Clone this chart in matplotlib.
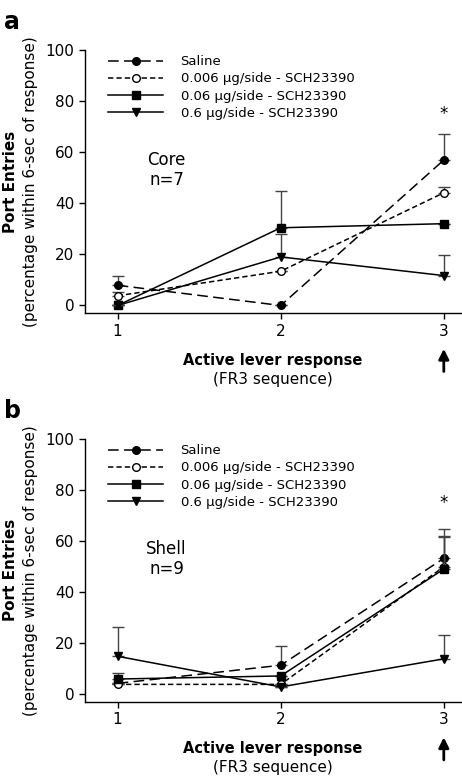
import matplotlib
matplotlib.use("Agg")
import matplotlib.pyplot as plt

# x positions: lever responses in the FR3 sequence
responses = [1, 2, 3]
labels = ["Saline", "0.006 \u00b5g/side - SCH23390", "0.06 \u00b5g/side - SCH23390", "0.6 \u00b5g/side - SCH23390"]

# Core (panel a) means and upper SEM
core_saline = [7.9, 0.0, 56.9]
core_saline_err = [3.6, 0.0, 10.2]
core_006 = [3.8, 13.4, 44.1]
core_006_err = [1.5, 0.0, 2.2]
core_06 = [0.0, 30.4, 32.0]
core_06_err = [0.0, 14.4, 0.0]
core_6 = [0.0, 19.0, 11.7]
core_6_err = [0.0, 9.0, 7.9]

# Shell (panel b)
shell_saline = [4.2, 11.3, 53.2]
shell_saline_err = [0.0, 7.6, 11.7]
shell_006 = [3.8, 3.8, 49.9]
shell_006_err = [0.0, 0.0, 11.7]
shell_06 = [5.9, 7.1, 49.0]
shell_06_err = [2.5, 0.0, 12.9]
shell_6 = [14.8, 2.8, 13.8]
shell_6_err = [11.3, 0.0, 9.5]

styles = [
    dict(ls=(0, (7, 3.5)), marker="o", mfc="black"),
    dict(ls=(0, (3.5, 2)), marker="o", mfc="white"),
    dict(ls="-", marker="s", mfc="black"),
    dict(ls="-", marker="v", mfc="black"),
]


def panel(ax, series, errs, region, n, letter):
    for vals, err, st, lab in zip(series, errs, styles, labels):
        ax.errorbar(responses, vals, yerr=[[0] * 3, err], fmt="none", ecolor="#444444",
                    elinewidth=1.0, capsize=4, capthick=1.0)
        ax.plot(responses, vals, color="black", lw=1.1, ls=st["ls"], marker=st["marker"],
                mfc=st["mfc"], mec="black", ms=5.5, label=lab)
    ax.set_xlim(0.8, 3.106)
    ax.set_ylim(-3, 100)
    ax.set_xticks(responses)
    ax.set_yticks([0, 20, 40, 60, 80, 100])
    ax.tick_params(labelsize=11, length=4, width=1, direction="out")
    for s in ["top", "right"]:
        ax.spines[s].set_visible(False)
    for s in ["left", "bottom"]:
        ax.spines[s].set_linewidth(1.0)
    ax.legend(loc="upper left", bbox_to_anchor=(0.04, 1.01), frameon=False, fontsize=9.5,
              handlelength=4.2, handletextpad=1.3, labelspacing=0.32, borderaxespad=0.2)
    ax.text(1.3, 53, region + "\nn=" + str(n), ha="center", va="center", fontsize=12, linespacing=1.15)
    ax.text(3, 75, "*", ha="center", va="center", fontsize=12)
    ax.text(-0.215, 1.106, letter, transform=ax.transAxes, fontsize=17, fontweight="bold", va="center")
    ax.text(-0.197, 0.5, "Port Entries", transform=ax.transAxes, rotation=90, fontsize=11,
            fontweight="bold", ha="center", va="center")
    ax.text(-0.146, 0.5, "(percentage within 6-sec of response)", transform=ax.transAxes, rotation=90,
            fontsize=11, ha="center", va="center")
    ax.text(0.50, -0.179, "Active lever response", transform=ax.transAxes, fontsize=10.5,
            fontweight="bold", ha="center", va="center")
    ax.text(0.50, -0.251, "(FR3 sequence)", transform=ax.transAxes, fontsize=11, ha="center", va="center")
    ax.annotate("", xy=(3, -0.125), xytext=(3, -0.232), xycoords=("data", "axes fraction"),
                textcoords=("data", "axes fraction"),
                arrowprops=dict(arrowstyle="-|>", color="black", lw=2.0, mutation_scale=15))


fig = plt.figure(figsize=(4.62, 7.79), dpi=100)
ax1 = fig.add_axes([0.184, 0.598, 0.814, 0.338])
ax2 = fig.add_axes([0.184, 0.0992, 0.814, 0.3373])

panel(ax1, [core_saline, core_006, core_06, core_6],
      [core_saline_err, core_006_err, core_06_err, core_6_err], "Core", 7, "a")
panel(ax2, [shell_saline, shell_006, shell_06, shell_6],
      [shell_saline_err, shell_006_err, shell_06_err, shell_6_err], "Shell", 9, "b")

fig.savefig("out.png", dpi=100)
